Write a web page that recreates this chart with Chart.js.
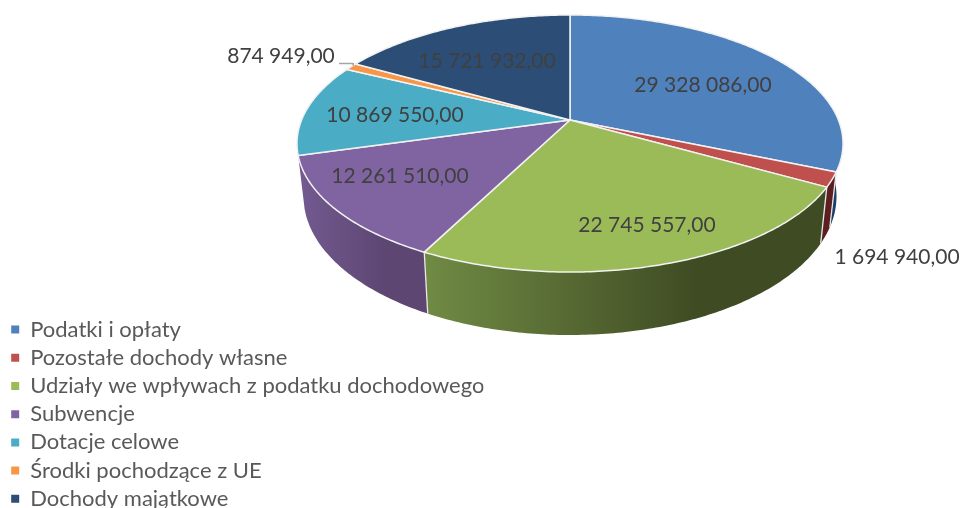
<!DOCTYPE html>
<html>
<head>
<meta charset="utf-8">
<script src="https://cdn.jsdelivr.net/npm/chart.js@4"></script>
<style>
  html, body { margin: 0; padding: 0; background: #fff; overflow: hidden; }
  /* the last legend row runs into the bottom edge in the original, so the canvas is a bit taller than the frame */
  #wrap { width: 962px; height: 508px; overflow: hidden; }
</style>
</head>
<body>
<div id="wrap"><canvas id="pieChart" width="962" height="516"></canvas></div>
<script>
const categories = ['Podatki i opłaty', 'Pozostałe dochody własne', 'Udziały we wpływach z podatku dochodowego', 'Subwencje', 'Dotacje celowe', 'Środki pochodzące z UE', 'Dochody majątkowe'];
const values = [29328086, 1694940, 22745557, 12261510, 10869550, 874949, 15721932];
const valueLabels = ['29 328 086,00', '1 694 940,00', '22 745 557,00', '12 261 510,00', '10 869 550,00', '874 949,00', '15 721 932,00'];
const topColors = ['#4f81bd', '#c0504d', '#9bbb59', '#8064a2', '#4bacc6', '#f79646', '#2c4d75'];

// side wall shading, left to right. Only the front slices show a wall
const wallColors = [
  ['#1f3d66', '#1f3d66'],
  ['#5a1f1e', '#5a1f1e'],
  ['#708b44', '#3f4b23'],
  ['#745a90', '#5d4672']
];

// where the value labels sit (text centre)
const labelSpots = [[703, 85], [897, 257], [647, 225], [400, 176], [395, 115], [281, 56], [487, 61]];

// perspective of the pie disc: top face and bottom face
const topFace = { x0: 570, y0: 120, s: 268.4, k: 124.2, c: 0.183 };
const bottomFace = { x0: 570, y0: 171, s: 262, k: 134, c: 0.183 };

const project = (face, angle, r = 1) => {
  const u = r * Math.cos(angle);
  const v = r * Math.sin(angle);
  const d = 1 - face.c * v;
  return [face.x0 + face.s * u / d, face.y0 + face.k * v / d];
};

const arcPoints = (face, start, end) => {
  const steps = Math.max(2, Math.ceil((end - start) * 80));
  const pts = [];
  for (let i = 0; i <= steps; i++) {
    pts.push(project(face, start + (end - start) * i / steps));
  }
  return pts;
};

const tracePath = (ctx, pts) => {
  ctx.beginPath();
  pts.forEach((p, i) => (i ? ctx.lineTo(p[0], p[1]) : ctx.moveTo(p[0], p[1])));
  ctx.closePath();
};

const pie3d = {
  id: 'pie3d',
  beforeDatasetsDraw(chart) {
    const ctx = chart.ctx;
    const arcs = chart.getDatasetMeta(0).data;
    ctx.save();
    ctx.lineJoin = 'round';

    // walls first, the top face covers whatever is behind it
    wallColors.forEach((colors, i) => {
      const arc = arcs[i];
      const upper = arcPoints(topFace, arc.startAngle, arc.endAngle);
      const lower = arcPoints(bottomFace, arc.startAngle, arc.endAngle);
      const xs = upper.concat(lower).map(p => p[0]);
      const left = Math.min(...xs);
      const grad = ctx.createLinearGradient(left, 0, left + (Math.max(...xs) - left) * 0.68, 0);
      grad.addColorStop(0, colors[0]);
      grad.addColorStop(1, colors[1]);
      tracePath(ctx, upper.concat(lower.reverse()));
      ctx.fillStyle = grad;
      ctx.fill();
    });

    // seams between walls
    ctx.strokeStyle = '#e8e8e8';
    ctx.lineWidth = 1.3;
    wallColors.forEach((colors, i) => {
      if (i === 0) return;
      const a = project(topFace, arcs[i].startAngle);
      const b = project(bottomFace, arcs[i].startAngle);
      ctx.beginPath();
      ctx.moveTo(a[0], a[1]);
      ctx.lineTo(b[0], b[1]);
      ctx.stroke();
    });

    // top face
    ctx.strokeStyle = '#f2f2f2';
    ctx.lineWidth = 1.5;
    arcs.forEach((arc, i) => {
      const pts = [[topFace.x0, topFace.y0]].concat(arcPoints(topFace, arc.startAngle, arc.endAngle));
      tracePath(ctx, pts);
      ctx.fillStyle = topColors[i];
      ctx.fill();
      ctx.stroke();
    });

    // leader line of the small slice
    const small = arcs[5];
    const tip = project(topFace, (small.startAngle + small.endAngle) / 2);
    ctx.strokeStyle = '#a6a6a6';
    ctx.lineWidth = 1.6;
    ctx.beginPath();
    ctx.moveTo(339, 63.5);
    ctx.lineTo(tip[0] + 2, 63.5);
    ctx.lineTo(tip[0] + 2, tip[1] - 1);
    ctx.stroke();

    // value labels
    ctx.font = '21px Lato';
    ctx.fillStyle = '#404040';
    ctx.textAlign = 'center';
    ctx.textBaseline = 'middle';
    valueLabels.forEach((txt, i) => ctx.fillText(txt, labelSpots[i][0], labelSpots[i][1]));
    ctx.restore();
    return false;
  }
};

new Chart(document.getElementById('pieChart'), {
  type: 'pie',
  data: {
    labels: categories,
    datasets: [{ data: values, backgroundColor: topColors, borderWidth: 0 }]
  },
  options: {
    responsive: false,
    animation: false,
    layout: { padding: { left: 5 } },
    plugins: {
      tooltip: { enabled: false },
      legend: {
        position: 'left',
        align: 'end',
        labels: {
          boxWidth: 8,
          boxHeight: 8,
          padding: 6.2,
          color: '#595959',
          font: { family: 'Lato', size: 22 }
        }
      }
    }
  },
  plugins: [pie3d]
});
</script>
</body>
</html>
